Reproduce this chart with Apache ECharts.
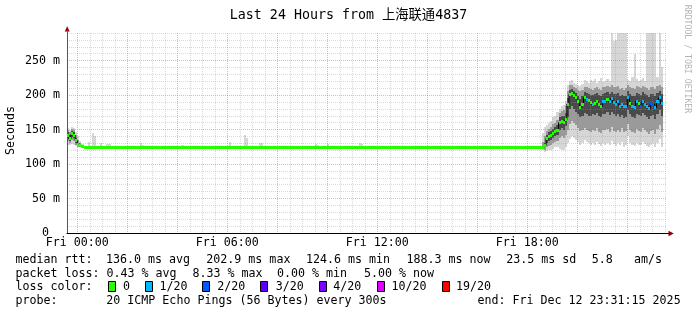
<!DOCTYPE html>
<html><head><meta charset="utf-8">
<script src="https://cdn.jsdelivr.net/npm/echarts@6/dist/echarts.min.js"></script>
<style>html,body{margin:0;padding:0;background:#fff}#c{width:697px;height:315px}</style>
</head><body><div id="c"></div>
<script>
// ---------- text ----------
const titleText = 'Last 24 Hours from 上海联通4837';
const yAxisName = 'Seconds';
const sideText = 'RRDTOOL / TOBI OETIKER';
const xTickMinutes = [0, 360, 720, 1080];
const xTickLabels = ['Fri 00:00', 'Fri 06:00', 'Fri 12:00', 'Fri 18:00'];
const yTickValues = [0, 50, 100, 150, 200, 250];
const yTickLabels = ['0', '50 m', '100 m', '150 m', '200 m', '250 m'];
const rttStats = ['136.0 ms avg', '202.9 ms max', '124.6 ms min', '188.3 ms now', '23.5 ms sd', '5.8', 'am/s'];
const lossStats = ['0.43 % avg', '8.33 % max', '0.00 % min', '5.00 % now'];
const lossLabels = ['0', '1/20', '2/20', '3/20', '4/20', '10/20', '19/20'];
const lossThresholds = [0, 1, 2, 3, 4, 10, 19];
const lossColors = ['#26ff00', '#00b8ff', '#0059ff', '#5e00ff', '#7e00ff', '#dd00ff', '#ff0000'];
const probeText = '20 ICMP Echo Pings (56 Bytes) every 300s';
const endText = 'end: Fri Dec 12 23:31:15 2025';

// ---------- data (minutes from Fri 00:00, values in ms) ----------
const medT = [-25,-20,-15,-10,-5,0,5,10,15,60,120,180,240,300,360,420,480,540,600,660,720,780,840,900,960,1020,1080,
  1115,1120,1125,1130,1135,1140,1145,1150,1155,1160,1165,1170,1175,1180,1185,1190,1195,1200,1205,1210,
  1215,1220,1225,1230,1235,1240,1245,1250,1255,1260,1265,1270,1275,1280,1285,1290,1295,1300,1305,1310,
  1315,1320,1325,1330,1335,1340,1345,1350,1355,1360,1365,1370,1375,1380,1385,1390,1395,1400];
const medV = [142,137,144,142,134,129,127,125.5,124.6,124.6,124.6,124.6,124.6,124.6,124.6,124.6,124.6,124.6,124.6,124.6,124.6,124.6,124.6,124.6,124.6,124.6,124.6,
  124.6,127,137,140,142,145,147,148,160,162,160,164,187,201,202.9,199,196,190,182,186,
  196,193,192,189,186,188,190,186,183,190,191,193,190,195,189,187,191,184,186,183,
  183,196,188,183,182,191,188,184,191,187,184,180,188,187,182,191,196,188];
const lossV = [0,0,0,0,0,0,0,0,0,0,0,0,0,0,0,0,0,0,0,0,0,0,0,0,0,0,0,
  0,0,0,0,0,0,0,0,0,0,0,0,0,0,0,0,0,0,0,0,
  0,1,0,0,1,0,0,0,0,1,1,0,1,1,1,1,1,1,1,1,
  1,1,0,1,1,1,0,2,1,1,1,1,2,2,1,1,1,1];

const smT = [-25,-20,-15,-10,-5,0,5,10,
  25,35,40,55,70,75,150,155,250,365,400,405,435,440,570,575,600,675,680,
  1115,1120,1125,1130,1135,1140,1145,1150,1155,1160,1165,1170,1175,1180,1185,1190,1195,1200,1205,1210,
  1215,1220,1225,1230,1235,1240,1245,1250,1255,1260,1265,1270,1275,1280,1285,1290,1295,1300,1305,1310,
  1315,1320,1325,1330,1335,1340,1345,1350,1355,1360,1365,1370,1375,1380,1385,1390,1395,1400];
const smLo = [128,127,129,128,126,124.6,124.6,124.6,
  124.6,124.6,124.6,124.6,124.6,124.6,124.6,124.6,124.6,124.6,124.6,124.6,124.6,124.6,124.6,124.6,124.6,124.6,124.6,
  120,118,119,120,121,122,124,125,122,120,121,124,130,136,140,138,135,132,128,130,
  135,132,130,128,130,127,132,129,126,130,128,131,127,133,129,126,130,127,132,125,
  128,140,130,128,126,131,128,127,132,129,126,124,128,130,125,131,136,124];
const smL2 = [133,131,135,134,128,125,124.6,124.6,
  124.6,124.6,124.6,124.6,124.6,124.6,124.6,124.6,124.6,124.6,124.6,124.6,124.6,124.6,124.6,124.6,124.6,124.6,124.6,
  122,121,124,126,128,130,132,134,138,140,138,142,150,158,162,160,156,152,148,150,
  152,150,148,146,150,148,152,147,145,150,149,151,146,153,148,146,150,147,152,146,
  148,158,150,147,145,151,148,146,152,149,146,143,148,150,144,151,156,146];
const smL3 = [137,134,139,138,130,126,125,124.6,
  124.6,124.6,124.6,124.6,124.6,124.6,124.6,124.6,124.6,124.6,124.6,124.6,124.6,124.6,124.6,124.6,124.6,124.6,124.6,
  124,124,130,133,135,138,140,142,150,152,150,155,168,180,184,180,176,172,168,170,
  174,172,170,170,172,171,174,170,168,173,172,175,171,176,172,170,173,168,171,167,
  168,178,172,168,167,173,171,169,174,171,168,165,170,171,166,173,178,170];
const smH3 = [146,142,148,146,138,131,128,126,
  124.6,124.6,124.6,124.6,124.6,124.6,124.6,124.6,124.6,124.6,124.6,124.6,124.6,124.6,124.6,124.6,124.6,124.6,124.6,
  126,131,142,146,148,151,153,156,168,170,169,174,196,208,209,206,203,199,195,198,
  204,203,202,200,200,201,203,200,199,202,203,204,202,205,202,201,203,198,200,198,
  199,206,202,199,198,203,201,200,204,202,200,197,201,201,198,203,206,202];
const smH2 = [149,147,151,149,142,135,130,127,
  124.6,124.6,124.6,124.6,124.6,124.6,124.6,124.6,124.6,124.6,124.6,124.6,124.6,124.6,124.6,124.6,124.6,124.6,124.6,
  132,140,148,151,154,158,160,164,174,177,178,184,206,214,215,212,210,208,206,208,
  212,211,210,209,208,210,212,209,208,211,212,213,211,214,212,211,213,209,210,208,
  210,214,212,210,209,213,211,210,213,212,210,208,211,212,209,213,214,212];
const smHi = [152,150,153,152,146,140,133,129,
  132,145,140,130,129,129,130,128,128,132,142,138,131,130,129,128,129,130,129,
  145,154,156,160,163,168,170,176,180,184,186,192,214,220,222,218,216,214,213,216,
  222,220,218,222,220,224,218,220,225,219,221,223,220,290,278,280,290,290,290,290,
  290,222,220,226,260,224,220,222,225,221,290,290,290,290,290,226,290,240];

// ---------- layout / style ----------
const MONO = 'DejaVu Sans Mono, Noto Sans CJK SC';
const FS = 11.65;
const X_MIN = -24.7, X_MAX = 1415.3;
const STEP = 5;
const gridMinutes = [];
for (let m = 0; m <= 1410; m += 30) gridMinutes.push(m);
const MINOR = 'rgba(150,150,150,0.36)';
const MAJOR = 'rgba(225,80,80,0.45)';
const SMOKE = ['#d6d6d6', '#9a9a9a', '#4a4a4a'];

function lossColor(l) {
  let c = lossColors[0];
  for (let i = 0; i < lossThresholds.length; i++) if (l >= lossThresholds[i]) c = lossColors[i];
  return c;
}

const smokeData = smT.map((t, i) => [t, t + STEP, smLo[i], smL2[i], smL3[i], smH3[i], smH2[i], smHi[i]]);
const medData = medT.map((t, i) => [t, i + 1 < medT.length ? medT[i + 1] : t + STEP, medV[i], lossV[i]]);
const medLine = medT.map((t, i) => [t, medV[i]]);
medLine.push([medT[medT.length - 1] + STEP, medV[medV.length - 1]]);

const chart = echarts.init(document.getElementById('c'), null, {renderer: 'canvas', width: 697, height: 315});

const txt = (x, y, s, extra) => Object.assign({
  type: 'text', x, y, silent: true,
  style: {text: s, fill: '#000', font: FS + 'px "DejaVu Sans Mono"', align: 'left', verticalAlign: 'middle'}
}, extra || {});

const graphics = [];
graphics.push({type: 'text', x: 687, y: 59, rotation: -Math.PI / 2, silent: true,
  style: {text: sideText, fill: '#b4b4b4', font: '8.2px "DejaVu Sans Mono"', align: 'center', verticalAlign: 'middle'}});
graphics.push({type: 'text', x: 10.5, y: 130.5, rotation: Math.PI / 2, silent: true,
  style: {text: yAxisName, fill: '#000', font: FS + 'px "DejaVu Sans Mono"', align: 'center', verticalAlign: 'middle'}});
// axis arrows
graphics.push({type: 'polygon', silent: true, z: 10, shape: {points: [[64.7, 31.5], [67.2, 26.3], [69.7, 31.5]]}, style: {fill: '#9a0000'}});
graphics.push({type: 'line', silent: true, z: 10, shape: {x1: 67.5, y1: 33, x2: 67.5, y2: 30}, style: {stroke: '#555', lineWidth: 1}});
graphics.push({type: 'polygon', silent: true, z: 10, shape: {points: [[668.5, 230.8], [673.8, 233.5], [668.5, 236.2]]}, style: {fill: '#9a0000'}});
graphics.push({type: 'line', silent: true, z: 10, shape: {x1: 663, y1: 233.5, x2: 669, y2: 233.5}, style: {stroke: '#000', lineWidth: 1}});
// legend rows
const R1 = 259.8, R2 = 273.6, R3 = 287.2, R4 = 301.3;
graphics.push(txt(15.5, R1, 'median rtt:'));
[106, 206.3, 306, 406.4, 506.3, 591.7, 634].forEach((x, i) => graphics.push(txt(x, R1, rttStats[i])));
graphics.push(txt(15.5, R2, 'packet loss:'));
[106.5, 192.4, 276.9, 364].forEach((x, i) => graphics.push(txt(x, R2, lossStats[i])));
graphics.push(txt(15.5, R3, 'loss color:'));
const boxX = [108.5, 145.5, 202.5, 260.5, 319.5, 377.5, 442.5];
const labX = [123, 159.4, 217.3, 275.7, 333.3, 391.4, 456];
lossLabels.forEach((l, i) => {
  graphics.push({type: 'rect', silent: true, shape: {x: boxX[i], y: 281.5, width: 7, height: 10},
    style: {fill: lossColors[i], stroke: '#000', lineWidth: 1}});
  graphics.push(txt(labX[i], R3, l));
});
graphics.push(txt(15.5, R4, 'probe:'));
graphics.push(txt(106.3, R4, probeText));
graphics.push(txt(477.4, R4, endText));

const option = {
  animation: false,
  backgroundColor: '#ffffff',
  title: {text: titleText, left: 'center', top: 8.5, padding: 0,
    textStyle: {fontFamily: MONO, fontSize: 13.3, fontWeight: 'normal', color: '#000'}},
  grid: {left: 67, right: 30, top: 33, bottom: 82, containLabel: false, outerBoundsMode: 'none'},
  xAxis: {
    type: 'value', min: X_MIN, max: X_MAX, z: 3,
    axisLine: {show: true, onZero: false, lineStyle: {color: '#000', width: 1}},
    axisTick: {show: false},
    axisLabel: {customValues: xTickMinutes, margin: 4, fontFamily: MONO, fontSize: FS, color: '#000',
      formatter: v => { const i = xTickMinutes.indexOf(v); return i >= 0 ? xTickLabels[i] : ''; }},
    splitLine: {show: false}
  },
  yAxis: {
    type: 'value', min: 0, max: 290, interval: 10, z: 3,
    axisLine: {show: true, onZero: false, lineStyle: {color: '#555', width: 1}},
    axisTick: {show: false},
    axisLabel: {margin: 7, fontFamily: MONO, fontSize: FS, color: '#000',
      formatter: v => { const i = yTickValues.indexOf(v); if (i < 0) return ''; return v === 0 ? '{z|0}' : yTickLabels[i]; },
      rich: {z: {fontFamily: MONO, fontSize: FS, color: '#000', padding: [0, 11, 0, 0]}}},
    splitLine: {show: true, lineStyle: {color: [MAJOR, MINOR, MINOR, MINOR, MINOR], width: 1, type: [1, 1]}}
  },
  graphic: {elements: graphics},
  series: [
    {
      type: 'custom', z: 1, silent: true, clip: true,
      encode: {x: [0, 1], y: [2, 7]},
      data: smokeData,
      renderItem: (params, api) => {
        const t0 = api.value(0), t1 = api.value(1);
        const x0 = Math.round(api.coord([t0, 0])[0]);
        const x1 = Math.round(api.coord([t1, 0])[0]);
        const yy = v => Math.round(api.coord([t0, v])[1]);
        const band = (a, b, c) => ({type: 'rect', shape: {x: x0, y: yy(b), width: x1 - x0, height: yy(a) - yy(b)}, style: {fill: c}});
        return {type: 'group', children: [
          band(api.value(2), api.value(7), SMOKE[0]),
          band(api.value(3), api.value(6), SMOKE[1]),
          band(api.value(4), api.value(5), SMOKE[2])
        ]};
      }
    },
    {
      // vertical time grid (30 min minor, 2 h major), drawn over the smoke
      type: 'custom', z: 3, silent: true, clip: true,
      encode: {x: 0},
      data: gridMinutes.map(m => [m]),
      renderItem: (params, api) => {
        const m = api.value(0);
        const top = api.coord([m, 290]);
        const bot = api.coord([m, 0]);
        const x = Math.round(top[0]) + 0.5;
        return {type: 'line', shape: {x1: x, y1: Math.round(top[1]), x2: x, y2: Math.round(bot[1])},
          style: {stroke: m % 120 === 0 ? MAJOR : MINOR, lineWidth: 1, lineDash: [1, 1]}};
      }
    },
    {
      type: 'line', z: 4, silent: true, step: 'end', symbol: 'none', data: medLine,
      lineStyle: {color: '#000', width: 1}
    },
    {
      type: 'custom', z: 5, silent: true, clip: true,
      encode: {x: [0, 1], y: [2]},
      data: medData,
      renderItem: (params, api) => {
        const t0 = api.value(0), t1 = api.value(1);
        const x0 = Math.round(api.coord([t0, 0])[0]);
        const x1 = Math.round(api.coord([t1, 0])[0]);
        const y = api.coord([t0, api.value(2)])[1];
        return {type: 'rect', shape: {x: x0, y: Math.round(y - 1.5), width: Math.max(x1 - x0, 2), height: 3},
          style: {fill: lossColor(api.value(3))}};
      }
    }
  ]
};
chart.setOption(option);
</script>
</body></html>
